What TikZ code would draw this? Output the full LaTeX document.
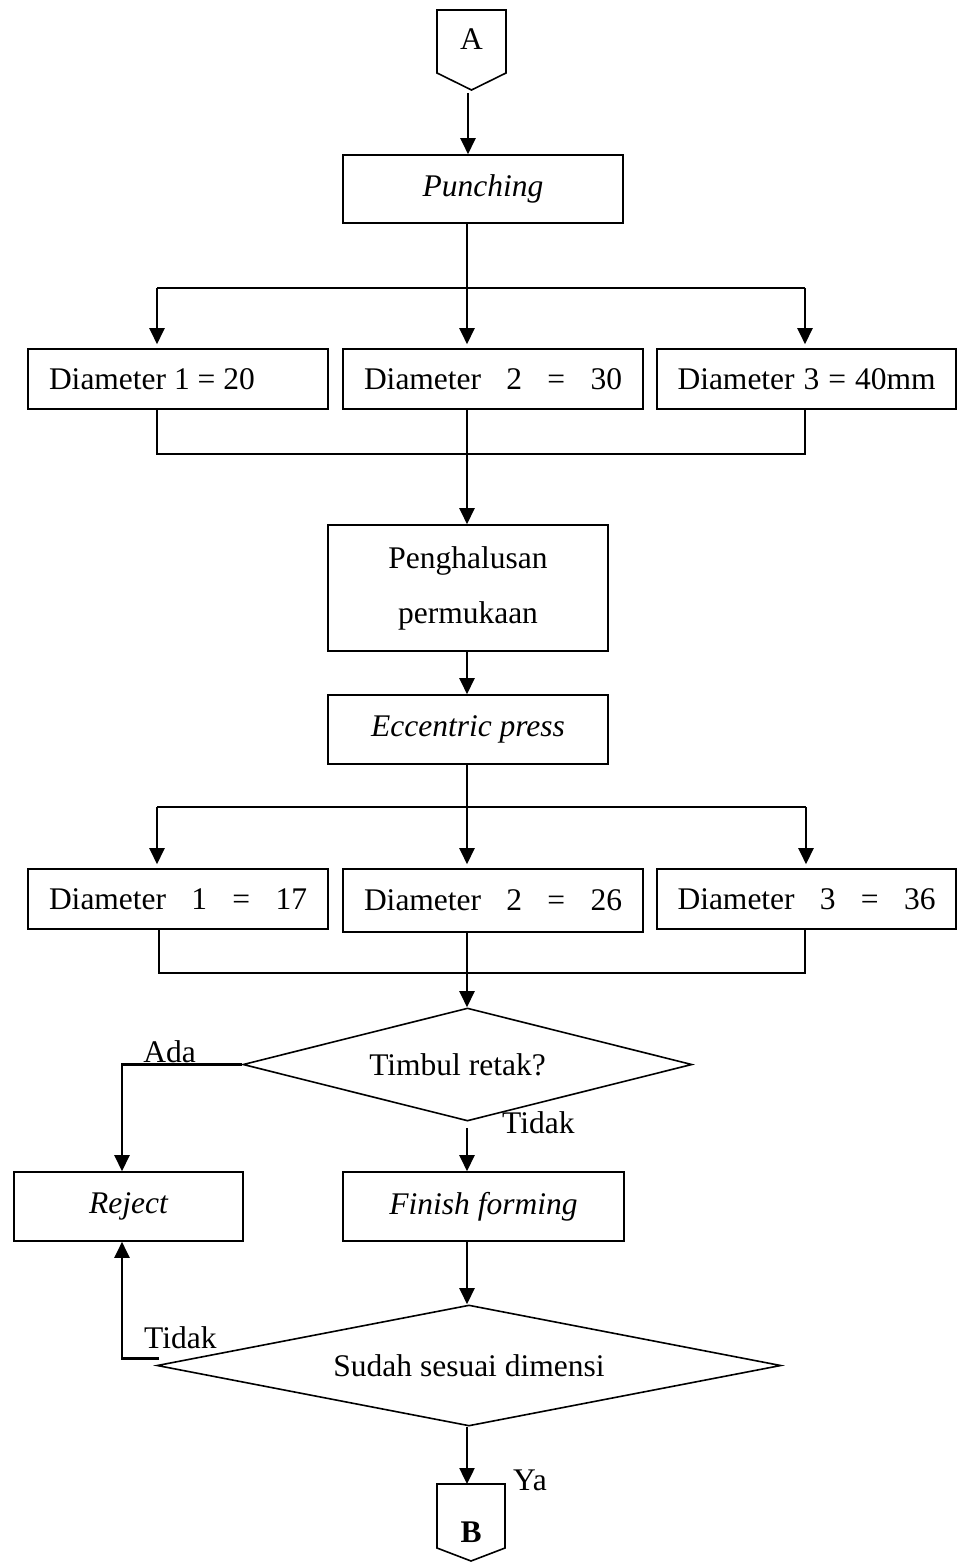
\documentclass[tikz,border=0pt]{standalone}
\usepackage{fontspec}
\setmainfont{Liberation Serif}
\usetikzlibrary{arrows.meta,shapes.geometric}

\begin{document}
\begin{tikzpicture}[x=1pt,y=-1pt, font=\fontsize{31.5}{55}\selectfont,
  box/.style={draw, rectangle, line width=1.6pt, inner sep=0pt},
  decision/.style={draw, diamond, line width=1.6pt, inner sep=0pt, aspect=5},
  flow/.style={line width=2.4pt, -{Triangle[length=16pt,width=15pt]}},
  link/.style={line width=1.4pt},
  bar/.style={line width=2.4pt},
  lbl/.style={inner sep=0pt},
  offpage/.style={line width=1.6pt, line join=miter}]
\useasboundingbox (0,0) rectangle (958,1562);

% guide columns
\coordinate (trunk) at (467,0);
\coordinate (rj) at (122,0);

% off-page connector A
\draw[offpage] (437,10) -- (506,10) -- (506,73) -- (471.5,90) -- (437,73) -- cycle;
\node[lbl, anchor=base] (A) at (471.5,50) {A};
\coordinate (Aout) at (468,93);

% process boxes
\node[box, minimum width=280, minimum height=68] (punch) at (483,189) {\itshape Punching};

\node[box, minimum width=300, minimum height=60] (d1a) at (178,379) {\makebox[258pt][l]{Diameter 1 = 20}};
\node[box, minimum width=300, minimum height=60] (d2a) at (493,379) {\makebox[258pt][s]{Diameter 2 = 30}};
\node[box, minimum width=299, minimum height=60] (d3a) at (806.5,379) {\makebox[258pt][s]{Diameter 3 = 40mm}};

\node[box, minimum width=280, minimum height=126, align=center] (halus) at (468,588) {Penghalusan\\permukaan};
\node[box, minimum width=280, minimum height=69] (ecc) at (468,729.5) {\itshape Eccentric press};

\node[box, minimum width=300, minimum height=60] (d1b) at (178,899) {\makebox[258pt][s]{Diameter 1 = 17}};
\node[box, minimum width=300, minimum height=63] (d2b) at (493,900.5) {\makebox[258pt][s]{Diameter 2 = 26}};
\node[box, minimum width=299, minimum height=60] (d3b) at (806.5,899) {\makebox[258pt][s]{Diameter 3 = 36}};

\node[decision, minimum width=449, minimum height=113] (q1) at (467.5,1064.5) {\hspace*{-20pt}Timbul retak?};

\node[box, minimum width=229, minimum height=69] (reject) at (128.5,1206.5) {\itshape Reject};
\node[box, minimum width=281, minimum height=69] (finish) at (483.5,1206.5) {\itshape Finish forming};

\node[decision, minimum width=624, minimum height=121] (q2) at (469,1365.5) {Sudah sesuai dimensi};

% off-page connector B
\draw[offpage] (437,1484) -- (505,1484) -- (505,1548) -- (471,1561) -- (437,1548) -- cycle;
\node[lbl, anchor=base] (B) at (471,1542) {\bfseries B};
\coordinate (Bin) at (467,1484);

% branch labels
\node[lbl, anchor=base] (ada) at (169.5,1062) {Ada};
\node[lbl, anchor=base west] (tidak1) at (502,1133) {Tidak};
\node[lbl, anchor=base west] (tidak2) at (144,1348) {Tidak};
\node[lbl, anchor=base west] (ya) at (513,1490) {Ya};

% A -> Punching
\draw[flow] (Aout) -- (Aout |- punch.north);

% Punching -> three diameters
\coordinate (s1L) at (157,288);
\coordinate (s1R) at (805,288);
\draw[bar] (s1L) -- (s1R);
\draw[flow, shorten >=4pt] (trunk |- punch.south) -- (trunk |- d2a.north);
\draw[flow, shorten >=4pt] (s1L) -- (s1L |- d1a.north);
\draw[flow, shorten >=4pt] (s1R) -- (s1R |- d3a.north);

% three diameters -> Penghalusan
\coordinate (m1L) at (157,454);
\coordinate (m1R) at (805,454);
\draw[link] (m1L |- d1a.south) -- (m1L) -- (m1R) -- (m1R |- d3a.south);
\draw[flow] (trunk |- d2a.south) -- (trunk |- halus.north);

% Penghalusan -> Eccentric press
\draw[flow] (trunk |- halus.south) -- (trunk |- ecc.north);

% Eccentric press -> three diameters
\coordinate (s2L) at (157,807);
\coordinate (s2R) at (806,807);
\draw[bar] (s2L) -- (s2R);
\draw[flow, shorten >=4pt] (trunk |- ecc.south) -- (trunk |- d2b.north);
\draw[flow, shorten >=4pt] (s2L) -- (s2L |- d1b.north);
\draw[flow, shorten >=4pt] (s2R) -- (s2R |- d3b.north);

% three diameters -> crack check
\coordinate (m2L) at (159,973);
\coordinate (m2R) at (805,973);
\draw[link] (m2L |- d1b.south) -- (m2L) -- (m2R) -- (m2R |- d3b.south);
\draw[flow] (trunk |- d2b.south) -- (trunk |- q1.north);

% crack check outcomes
\draw[flow] (q1.west) -| (rj |- reject.north);
\draw[flow, shorten <=6pt] (trunk |- q1.south) -- (trunk |- finish.north);

% Finish forming -> dimension check
\draw[flow] (trunk |- finish.south) -- (trunk |- q2.north);

% dimension check outcomes
\draw[flow] ([xshift=3pt,yshift=7pt]q2.west) -| (rj |- reject.south);
\draw[flow] (trunk |- q2.south) -- (Bin);
\end{tikzpicture}
\end{document}
